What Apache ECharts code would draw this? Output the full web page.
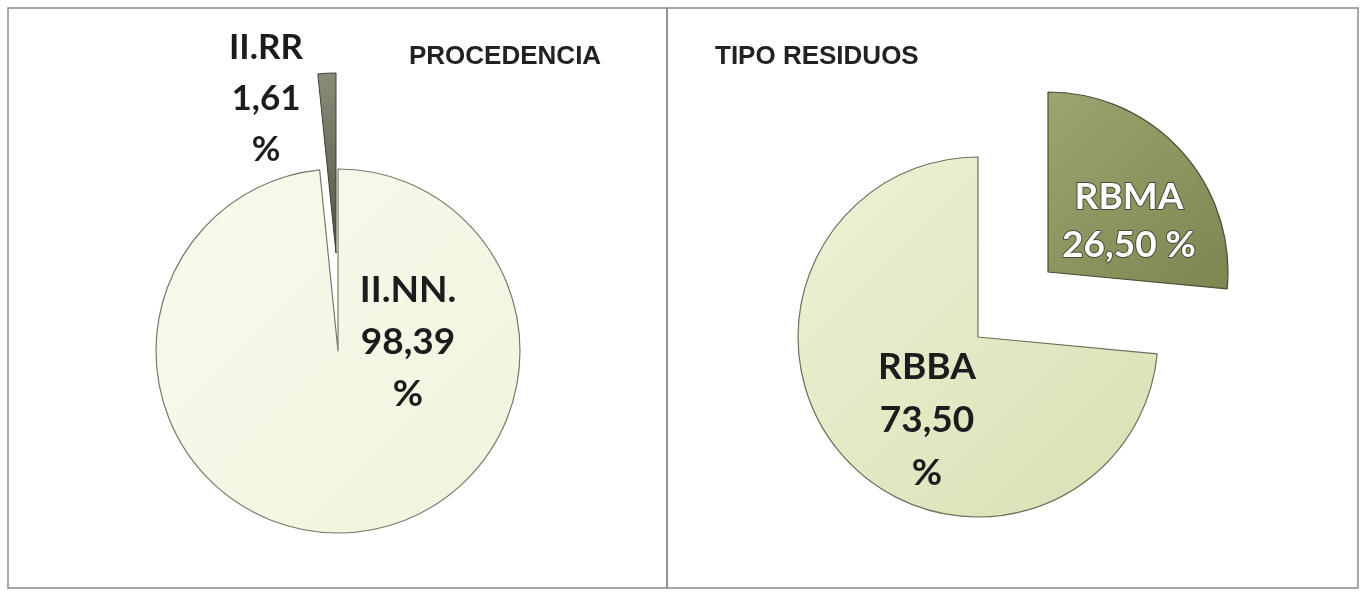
<!DOCTYPE html>
<html lang="es">
<head>
    <meta charset="UTF-8">
    <title>Procedencia / Tipo residuos</title>
    <script src="https://cdn.jsdelivr.net/npm/echarts@6/dist/echarts.min.js"></script>
</head>
<body>
<div id="chart"></div>
</body>
<style>
    * {
        padding: 0;
        margin: 0;
    }

    html, body {
        width: 100%;
        height: 100%;
        background-color: white;
    }

    #chart {
        width: 1362px;
        height: 595px;
    }
</style>
<script>

    // PROCEDENCIA
    const procNames = ['II.NN.', 'II.RR']
    const procValues = [98.39, 1.61]

    // TIPO RESIDUOS
    const tipoNames = ['RBMA', 'RBBA']
    const tipoValues = [26.50, 73.50]

    const fmt = function (v) {
        return v.toFixed(2).replace('.', ',')
    }

    const grad = function (a, b) {
        return new echarts.graphic.LinearGradient(0, 0, 1, 1, [
            {offset: 0, color: a},
            {offset: 1, color: b}
        ])
    }

    // each exploded slice gets its own pie so it can sit where Excel put it;
    // the other slice of that pie is left invisible
    const slicePie = function (names, values, show, cfg) {
        return {
            type: 'pie',
            center: cfg.center,
            radius: cfg.radius,
            startAngle: 90,
            clockwise: true,
            silent: true,
            labelLine: {show: false},
            labelLayout: (p) => p.dataIndex === show ? {
                x: cfg.labelAt[0],
                y: cfg.labelAt[1],
                align: 'center',
                verticalAlign: 'middle'
            } : {},
            data: names.map((n, i) => ({
                name: n,
                value: values[i],
                itemStyle: i === show ? cfg.itemStyle : {opacity: 0, borderWidth: 0},
                label: i === show ? Object.assign({
                    show: cfg.label !== undefined,
                    position: 'inside',
                    fontFamily: 'Lato',
                    fontWeight: 'bold',
                    fontSize: 37,
                    lineHeight: 52,
                    color: '#1c1c1c',
                    align: 'center'
                }, cfg.label) : {show: false}
            }))
        }
    }

    let chart = echarts.init(document.getElementById('chart'))

    let option = {
        animation: false,
        graphic: [
            {
                type: 'rect',
                shape: {x: 8, y: 8, width: 659, height: 580},
                style: {fill: 'none', stroke: '#8a8a8a', lineWidth: 1.5}
            },
            {
                type: 'rect',
                shape: {x: 667, y: 8, width: 691, height: 580},
                style: {fill: 'none', stroke: '#8a8a8a', lineWidth: 1.5}
            },
            {
                type: 'text',
                left: 409, top: 44,
                style: {
                    text: 'PROCEDENCIA',
                    font: 'bold 26px "Liberation Sans"',
                    fill: '#222'
                }
            },
            {
                type: 'text',
                left: 715, top: 44,
                style: {
                    text: 'TIPO RESIDUOS',
                    font: 'bold 26px "Liberation Sans"',
                    fill: '#222'
                }
            }
        ],
        series: [
            slicePie(procNames, procValues, 0, {
                center: [338, 351],
                radius: 182,
                labelAt: [408, 342],
                itemStyle: {
                    color: grad('#f9faee', '#f1f3dc'),
                    borderColor: '#77796a',
                    borderWidth: 1.2
                },
                label: {
                    formatter: (p) => p.name + '\n' + fmt(p.value) + '\n%'
                }
            }),
            slicePie(procNames, procValues, 1, {
                center: [336, 253],
                radius: 180,
                labelAt: [266, 99],
                itemStyle: {
                    color: grad('#8a8d78', '#4f5343'),
                    borderColor: '#3e4034',
                    borderWidth: 1
                },
                label: {
                    formatter: (p) => p.name + '\n' + fmt(p.value) + '\n%',
                    fontSize: 35,
                    lineHeight: 51
                }
            }),
            slicePie(tipoNames, tipoValues, 1, {
                center: [978, 337],
                radius: 180,
                labelAt: [927, 420],
                itemStyle: {
                    color: grad('#edf2d6', '#d7e0b3'),
                    borderColor: '#6a705a',
                    borderWidth: 1.2
                },
                label: {
                    formatter: (p) => p.name + '\n' + fmt(p.value) + '\n%',
                    lineHeight: 53
                }
            }),
            slicePie(tipoNames, tipoValues, 0, {
                center: [1048, 272],
                radius: 180,
                labelAt: [1129, 221],
                itemStyle: {
                    color: grad('#9aa571', '#7d8650'),
                    borderColor: '#4b4f38',
                    borderWidth: 1.2
                },
                label: {
                    formatter: (p) => p.name + '\n' + fmt(p.value) + ' %',
                    lineHeight: 48,
                    color: '#ffffff',
                    textBorderColor: '#4a4a3a',
                    textBorderWidth: 2
                }
            })
        ]
    }

    chart.setOption(option)

</script>
</html>
